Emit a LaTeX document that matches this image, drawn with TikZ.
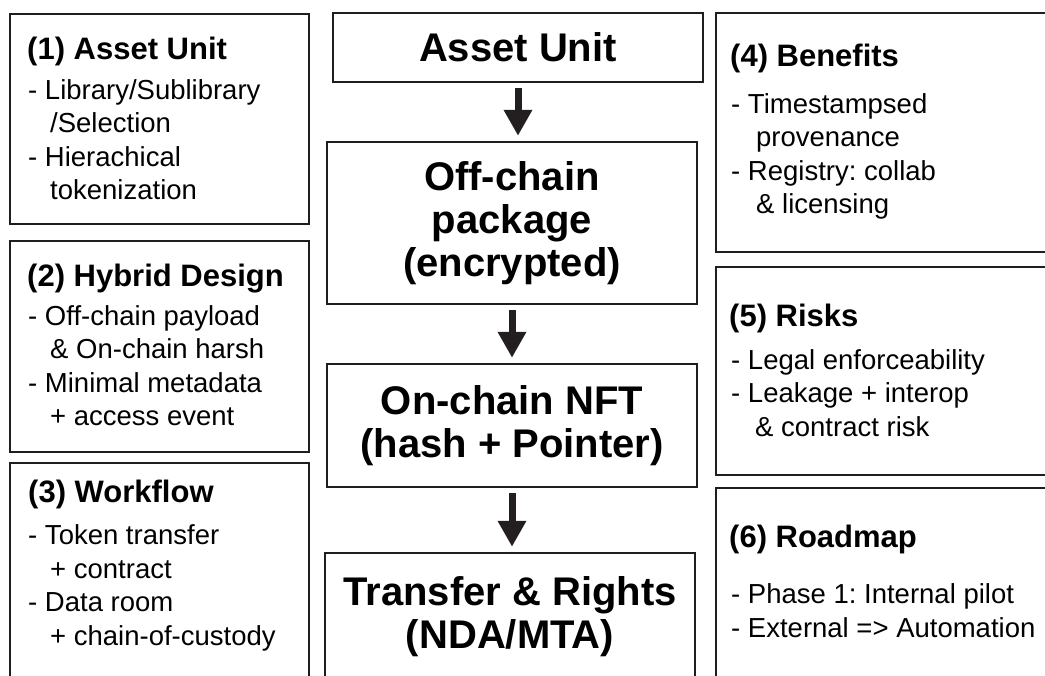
\documentclass[tikz,border=0pt]{standalone}
\usepackage{fontspec}
\setmainfont{Liberation Sans}
\usetikzlibrary{arrows.meta, positioning}
\definecolor{BoxLine}{RGB}{30, 30, 30}
\definecolor{ArrowDark}{RGB}{35, 31, 32}
\frenchspacing

\begin{document}
\begin{tikzpicture}[x=1pt, y=-1pt,
    stage/.style={draw=BoxLine, line width=2.4pt, minimum width=370pt, align=center, inner sep=0pt, font=\bfseries\fontsize{40}{43}\selectfont},
    panel/.style={draw=BoxLine, line width=2.4pt},
    heading/.style={anchor=base west, inner sep=0pt, font=\bfseries\fontsize{31}{31}\selectfont},
    items/.style={anchor=base west, inner sep=0pt, align=left, font=\fontsize{27.5}{33.5}\selectfont},
    flow/.style={-{Triangle[width=27pt, length=26pt]}, line width=7pt, ArrowDark, shorten <=5pt, shorten >=5pt}]
    \useasboundingbox (0,0) rectangle (1045,676);
    \clip (0,0) rectangle (1045,676);

    % middle column
    \node[stage, minimum height=69pt] (asset) at (518,47.5) {Asset Unit};
    \node[stage, minimum height=162pt] (offchain) at (512,223) {Off-chain\\package\\(encrypted)};
    \node[stage, minimum height=123pt] (onchain) at (512,425.5) {On-chain NFT\\(hash + Pointer)};
    \node[stage, minimum height=127pt] (transfer) at (510,616.5) {Transfer \& Rights\\(NDA/MTA)};
    \draw[flow] (asset.south) -- (asset.south |- offchain.north);
    \draw[flow] (offchain) -- (onchain);
    \draw[flow] (onchain) -- (transfer.north -| onchain.south);

    % left column (lists sit on their last baseline)
    \draw[panel] (10,14) rectangle (309,224);
    \node[heading] (head1) at (27,60) {(1) Asset Unit};
    \node[items] (list1) at (28,200) {- Library/Sublibrary\\\hspace*{22pt}/Selection\\- Hierachical\\\hspace*{22pt}tokenization};
    \draw[panel] (10,241) rectangle (309,452);
    \node[heading] (head2) at (27,287) {(2) Hybrid Design};
    \node[items] (list2) at (28,426) {- Off-chain payload\\\hspace*{22pt}\& On-chain harsh\\- Minimal metadata\\\hspace*{22pt}+ access event};
    \draw[panel] (10,463) rectangle (309,700);
    \node[heading] (head3) at (28,502) {(3) Workflow};
    \node[items] (list3) at (28,645) {- Token transfer\\\hspace*{22pt}+ contract\\- Data room\\\hspace*{22pt}+ chain-of-custody};

    % right column
    \draw[panel] (716,13) rectangle (1060,252);
    \node[heading] (head4) at (730,67) {(4) Benefits};
    \node[items] (list4) at (731,214) {- Timestampsed\\\hspace*{25pt}provenance\\- Registry: collab\\\hspace*{25pt}\& licensing};
    \draw[panel] (716,267) rectangle (1060,475);
    \node[heading] (head5) at (729,327) {(5) Risks};
    \node[items] (list5) at (731,436) {- Legal enforceability\\- Leakage + interop\\\hspace*{24pt}\& contract risk};
    \draw[panel] (716,488) rectangle (1060,700);
    \node[heading] (head6) at (729,547) {(6) Roadmap};
    \node[items] (list6) at (731,637) {- Phase 1: Internal pilot\\- External => Automation};
\end{tikzpicture}
\end{document}
